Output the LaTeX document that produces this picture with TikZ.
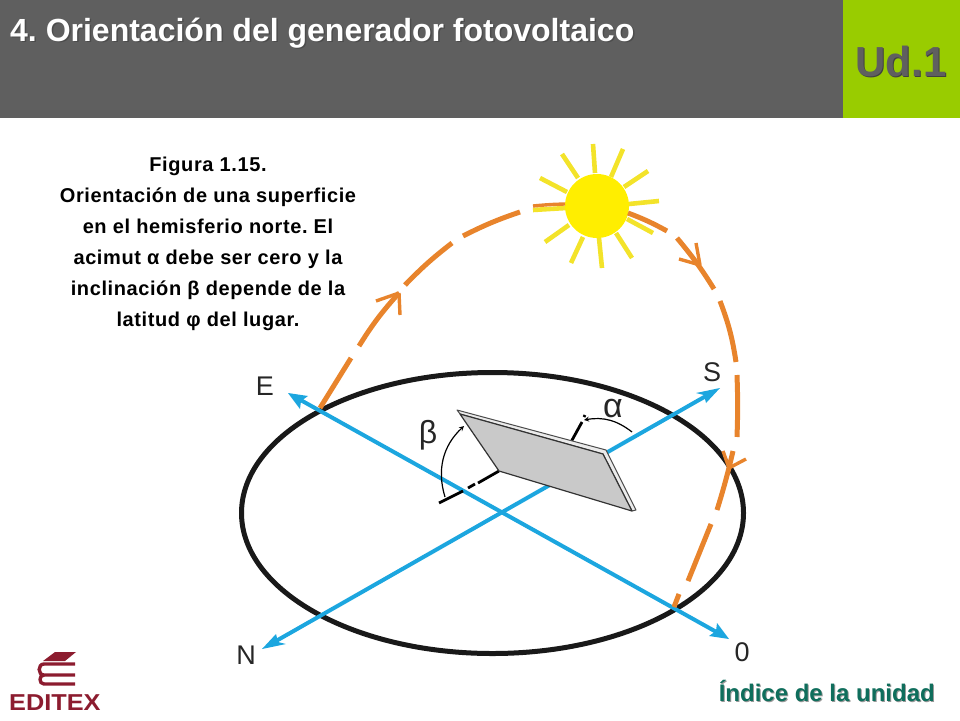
\documentclass[tikz,border=0pt]{standalone}
\usepackage{fontspec}
\setmainfont{Liberation Sans}
\usetikzlibrary{positioning,shapes.geometric}
\definecolor{BarGray}{HTML}{5F5F5F}
\definecolor{BarGreen}{HTML}{99CC00}
\definecolor{LinkGreen}{HTML}{0F6E5C}
\definecolor{SunOrange}{HTML}{E8842C}
\definecolor{AxisBlue}{HTML}{1CA6DF}
\definecolor{SunYellow}{HTML}{FFEE00}
\definecolor{RayYellow}{HTML}{F3E32A}
\definecolor{PanelGray}{HTML}{C9C9C9}
\definecolor{LogoRed}{HTML}{8C1C2F}
\frenchspacing
\tikzset{
  orbit/.style={draw=SunOrange,line width=5pt},
  barb/.style={draw=SunOrange,line width=3.4pt},
  axis/.style={draw=AxisBlue,line width=4pt},
  axistip/.style={fill=AxisBlue},
  normal/.style={draw=black,line width=2.8pt},
  angarc/.style={draw=black,line width=1.2pt},
  letter/.style={font=\fontsize{27}{27}\selectfont,text=black!85,inner sep=0},
}
\newcommand{\drawdummy}{\coordinate}
\begin{document}
\begin{tikzpicture}[x=1pt,y=-1pt]
\useasboundingbox (0,0) rectangle (960,720);
%header
\fill[BarGray] (0,0) rectangle (843,118);
\fill[BarGreen] (843,0) rectangle (960,118);
\node[anchor=base west,inner sep=0,text=black!70] at (11.5,42.5) {\fontsize{32}{32}\selectfont\bfseries 4. Orientación del generador fotovoltaico};
\node[anchor=base west,inner sep=0,text=white] (title) at (10,41) {\fontsize{32}{32}\selectfont\bfseries 4. Orientación del generador fotovoltaico};
\node[anchor=base,inner sep=0,text=black!75] at (902,77.5) {\fontsize{42}{42}\selectfont\bfseries Ud.1};
\node[anchor=base,inner sep=0,text=BarGray] (unit) at (901,76.5) {\fontsize{42}{42}\selectfont\bfseries Ud.1};
%caption
\node[align=center,inner sep=0,anchor=north,font=\fontsize{20}{31}\selectfont\addfontfeatures{LetterSpace=3}\bfseries] (caption) at (208,157) {Figura 1.15.\\Orientación de una superficie\\en el hemisferio norte. El\\acimut α debe ser cero y la\\inclinación β depende de la\\latitud φ del lugar.};
%ground
\node[draw=black!90,line width=5pt,ellipse,minimum width=502pt,minimum height=281pt,inner sep=0] (ground) at (492.5,513) {};
\drawdummy (e) at (288,393);
\drawdummy (o) at (729,639);
\drawdummy (s) at (720,388);
\drawdummy (n) at (262,649);
\draw[axis,shorten <=10pt,shorten >=10pt] (e) -- (o);
\draw[axis,shorten <=10pt,shorten >=10pt] (s) -- (n);
\fill[axistip] (288,393) -- (308,396) -- (301,401) -- (300,409) -- cycle;
\fill[axistip] (729,639) -- (709,636) -- (716,631) -- (717,623) -- cycle;
\fill[axistip] (720,388) -- (706,403) -- (704,395) -- (696,393) -- cycle;
\fill[axistip] (262,649) -- (276,634) -- (278,642) -- (286,644) -- cycle;
\node[letter] (labelE) at (265,386) {E};
\node[letter] (labelS) at (712,372) {S};
\node[letter] (labelN) at (246,655) {N};
\node[letter] (labelO) at (742,652) {0};
%panel
\drawdummy (a) at (460,414);
\drawdummy (b) at (603,454);
\drawdummy (c) at (632,511);
\drawdummy (d) at (499,471);
\draw[normal] (d) -- (478,483);
\draw[normal] (475,484) -- (468,488);
\draw[normal] (463,491) -- (439,503);
\draw[normal] (571,442) -- (582,422);
\draw[normal] (584,417) -- (585,415);
\fill[black!8,draw=black!70,line width=1pt,line join=round] (a) -- (457,410) -- (606,450) -- (636,510) -- (c) -- (b) -- cycle;
\fill[PanelGray,draw=black!80,line width=1.2pt,line join=round] (a) -- (b) -- (c) -- (d) -- cycle;
\draw[angarc,<-,>=stealth] (464,426) to[bend right=32] (445,497);
\draw[angarc,<-,>=stealth] (584,420) to[bend left=24] (632,432);
\node[letter,font=\fontsize{32}{32}\selectfont] (beta) at (428,435) {β};
\node[letter,font=\fontsize{34}{34}\selectfont] (alpha) at (613,409) {α};
%sun
\foreach \xa/\ya/\xb/\yb in {593/144/595/173,623/149/611/177,648/171/624/187,659/201/629/204,653/233/627/219,632/258/616/233,602/268/599/238,571/263/583/237,545/242/569/225,533/210/566/208,540/178/567/192,562/154/578/178}
  \draw[RayYellow,line width=4.6pt] (\xa,\ya) -- (\xb,\yb);
\node[fill=SunYellow,circle,minimum size=64pt,inner sep=0] (sun) at (597,206) {};
%path of the sun
\draw[orbit] (320,408) -- (351,358);
\draw[orbit] (359,346) to[bend left=5] (399,293);
\draw[barb] (399,293) -- (376,301);
\draw[barb] (399,293) -- (400,315);
\draw[orbit] (405,285) to[bend left=4] (452,243);
\draw[orbit] (463,236) to[bend left=4] (520,212);
\draw[orbit,line width=3.4pt] (533,206) to[bend left=2] (565,204);
\draw[orbit] (628,213) to[bend left=4] (667,231);
\draw[orbit] (677,238) to[bend left=4] (714,289);
\draw[barb] (700,265) -- (696,243);
\draw[barb] (700,265) -- (679,259);
\draw[orbit] (720,301) to[bend left=6] (736,362);
\draw[orbit] (737,375) to[bend left=2] (737,437);
\draw[orbit] (733,451) to[bend left=2] (717,510);
\draw[barb] (729,468) -- (723,451);
\draw[barb] (729,468) -- (746,459);
\draw[orbit] (711,524) -- (688,581);
\draw[orbit] (679,594) -- (674,607);
%link
\node[anchor=base east,inner sep=0,text=black!40] at (936,702) {\fontsize{24}{24}\selectfont\bfseries Índice de la unidad};
\node[anchor=base east,inner sep=0,text=LinkGreen] (link) at (935,701) {\fontsize{24}{24}\selectfont\bfseries Índice de la unidad};
%logo
\fill[LogoRed] (55,652) -- (76,652) -- (65,661) -- (43,661) -- cycle;
\draw[LogoRed,line width=3.4pt] (75,664) -- (44,664) to[out=180,in=180,looseness=1.5] (44,675) -- (75,675);
\draw[LogoRed,line width=3.4pt] (44,675) to[out=180,in=180,looseness=1.5] (44,684) -- (75,684);
\node[anchor=base west,inner sep=0,text=LogoRed,xscale=1.1] (logo) at (9,710) {\fontsize{23}{23}\selectfont\bfseries EDITEX};
\end{tikzpicture}
\end{document}
